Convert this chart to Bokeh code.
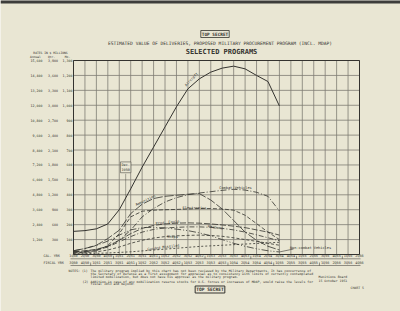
from bokeh.plotting import figure
from bokeh.models import Range1d, Label, BoxAnnotation
from bokeh.core.properties import value
from bokeh.embed import file_html
from bokeh.resources import INLINE

# ---------------- data (monthly rate, $ millions) ----------------
qtr_idx = [0, 1, 2, 3, 4, 5, 6, 7, 8, 9, 10, 11, 12, 13, 14, 15, 16, 17, 18]
aircraft = [155, 160, 172, 205, 300, 440, 585, 720, 855, 990, 1110, 1177, 1222, 1249, 1262, 1244, 1200, 1159, 995]
combat_vehicles = [18, 22, 30, 55, 96, 163, 252, 308, 352, 381, 401, 412, 421, 430, 437, 432, 417, 390, 292]
ammunition = [25, 40, 62, 107, 163, 274, 337, 375, 390, 397, 404, 408, 365, 305, 228, 150, 95, 55, 30]
electronics = [10, 15, 25, 60, 140, 252, 290, 297, 300, 302, 305, 308, 308, 305, 297, 263, 207, 150, 100]
prod_equip = [20, 25, 35, 55, 95, 140, 175, 195, 205, 210, 212, 210, 205, 198, 190, 180, 165, 150, 130]
weapons = [15, 20, 30, 50, 85, 120, 150, 168, 178, 182, 185, 185, 182, 175, 165, 150, 132, 112, 92]
ships = [10, 12, 18, 30, 50, 75, 95, 110, 120, 125, 128, 130, 128, 122, 112, 100, 88, 75, 62]
guided_missiles = [5, 6, 8, 10, 14, 18, 24, 30, 36, 42, 48, 54, 58, 62, 66, 70, 74, 78, 82]
noncombat_vehicles = [25, 40, 60, 90, 130, 165, 180, 182, 178, 170, 160, 145, 125, 100, 75, 55, 38, 25, 17]

dec_1950_x = 4.56
dec_1950_top = 540

# ---------------- axis tick labels ----------------
grid_x = list(range(26))
cal_labels = ["1Q50", "2Q50", "3Q50", "4Q50", "1Q51", "2Q51", "3Q51", "4Q51",
              "1Q52", "2Q52", "3Q52", "4Q52", "1Q53", "2Q53", "3Q53", "4Q53",
              "1Q54", "2Q54", "3Q54", "4Q54", "1Q55", "2Q55", "3Q55", "4Q55",
              "1Q56", "2Q56"]
fiscal_labels = ["3Q50", "4Q50", "1Q51", "2Q51", "3Q51", "4Q51", "1Q52", "2Q52",
                 "3Q52", "4Q52", "1Q53", "2Q53", "3Q53", "4Q53", "1Q54", "2Q54",
                 "3Q54", "4Q54", "1Q55", "2Q55", "3Q55", "4Q55", "1Q56", "2Q56",
                 "3Q56", "4Q56"]
cal_year_breaks = [3.5, 7.5, 11.5, 15.5, 19.5, 23.5]
fiscal_year_breaks = [1.5, 5.5, 9.5, 13.5, 17.5, 21.5]
mo_ticks = [0, 100, 200, 300, 400, 500, 600, 700, 800, 900, 1000, 1100, 1200, 1300]
mo_labels = ["", "100", "200", "300", "400", "500", "600", "700", "800", "900",
             "1,000", "1,100", "1,200", "1,300"]
qtr_labels = ["", "300", "600", "900", "1,200", "1,500", "1,800", "2,100", "2,400",
              "2,700", "3,000", "3,300", "3,600", "3,900"]
annual_labels = ["", "1,200", "2,400", "3,600", "4,800", "6,000", "7,200", "8,400",
                 "9,600", "10,800", "12,000", "13,200", "14,400", "15,600"]

# ---------------- style / page geometry ----------------
PAPER = "#e9e6d3"
INK = "#34332f"
GRID = "#7f7c73"
FONT = "DejaVu Sans Mono"
FL, FR, FT, FB = 73, 359, 60, 254          # plot rectangle on the page (px)
W, H = 400, 311

def dx(px):
    return grid_x[0] + (px - FL) / (FR - FL) * (grid_x[-1] - grid_x[0])

def dy(py):
    return mo_ticks[0] + (FB - py) / (FB - FT) * (mo_ticks[-1] - mo_ticks[0])

p = figure(width=W, height=H, x_range=Range1d(dx(0), dx(W)), y_range=Range1d(dy(H), dy(0)),
           output_backend="svg", toolbar_location=None,
           x_axis_location=None, y_axis_location=None,
           min_border=0, min_border_left=0, min_border_right=0,
           min_border_top=0, min_border_bottom=0,
           background_fill_color=PAPER, border_fill_color=PAPER,
           outline_line_color=None)
p.xgrid.grid_line_color = None
p.ygrid.grid_line_color = None

x0, x1 = grid_x[0], grid_x[-1]
y0, y1 = mo_ticks[0], mo_ticks[-1]

# grid
p.segment(x0=grid_x, y0=[y0] * len(grid_x), x1=grid_x, y1=[y1] * len(grid_x),
          line_color=GRID, line_width=0.8)
p.segment(x0=[x0] * len(mo_ticks), y0=mo_ticks, x1=[x1] * len(mo_ticks), y1=mo_ticks,
          line_color=GRID, line_width=0.8)
p.quad(left=[x0], right=[x1], bottom=[y0], top=[y1], fill_color=None,
       line_color=INK, line_width=1.0)

# y tick labels (three columns)
def tick_col(px_right, labels, size="3.3px"):
    p.text(x=[dx(px_right)] * len(mo_ticks), y=mo_ticks, text=labels,
           text_font=value(FONT), text_font_size=size, text_color=INK,
           text_align="right", text_baseline="middle")

tick_col(72, mo_labels)
tick_col(57.5, qtr_labels)
tick_col(42, annual_labels)

# x tick label rows
def x_row(py, labels, breaks, py_line):
    p.text(x=grid_x, y=[dy(py)] * len(grid_x), text=labels,
           text_font=value(FONT), text_font_size="3.5px", text_color=INK,
           text_align="center", text_baseline="middle")
    p.segment(x0=[dx(70)], y0=[dy(py_line)], x1=[dx(360)], y1=[dy(py_line)],
              line_color=INK, line_width=0.5)
    p.segment(x0=breaks, y0=[dy(py_line)] * len(breaks), x1=breaks,
              y1=[dy(py_line - 3)] * len(breaks), line_color=INK, line_width=0.5)

x_row(255.6, cal_labels, cal_year_breaks, 258.3)
x_row(262.4, fiscal_labels, fiscal_year_breaks, 265.0)

# series
series = [
    (aircraft, "solid", 1.0),
    (combat_vehicles, "6 2 1 2", 0.8),
    (ammunition, "9 2", 0.8),
    (electronics, "4 2", 0.8),
    (prod_equip, "6 2", 0.8),
    (weapons, "5 2 1 2", 0.8),
    (ships, "3 2", 0.8),
    (guided_missiles, "2 2", 0.8),
    (noncombat_vehicles, "7 2 1 2 1 2", 0.8),
]
for ys, dash, lw in series:
    p.line(qtr_idx, ys, line_color=INK, line_width=lw, line_dash=dash)

# Dec 1950 marker
p.segment(x0=[dec_1950_x], y0=[y0], x1=[dec_1950_x], y1=[dec_1950_top],
          line_color=INK, line_width=0.8, line_dash="1 1")
p.add_layout(Label(x=dec_1950_x, y=dec_1950_top + 8, text="Dec.\n1950", text_font=FONT,
                   text_font_size="3.5px", text_color=INK, text_align="center",
                   text_baseline="bottom", background_fill_color=PAPER,
                   border_line_color=INK, border_line_width=0.5, padding=1))

# non-combat vehicles leader
p.segment(x0=[dx(293)], y0=[dy(248.5)], x1=[qtr_idx[-1]], y1=[noncombat_vehicles[-1]],
          line_color=INK, line_width=0.6)

def lab(px, py, text, size="3.6px", angle=0.0, align="center", bold=False, **kw):
    p.add_layout(Label(x=dx(px), y=dy(py), text=text, text_font=FONT, text_font_size=size,
                       text_color=INK, text_align=align, text_baseline="middle", angle=angle,
                       text_font_style=("bold" if bold else "normal"), **kw))

# series labels
lab(191, 79, "Aircraft", angle=0.8)
lab(235, 187, "Combat Vehicles")
lab(145, 200, "Ammunition", angle=0.45)
lab(194, 207, "Electronics")
lab(168, 222, "Prod. Equip.", angle=0.1)
lab(215, 227, "Weapons", angle=-0.15)
lab(172, 236, "Ships")
lab(163, 247, "Guided Missiles", angle=0.12)
lab(310, 247.5, "Non-combat Vehicles")

# headings
lab(214.5, 33.5, "TOP SECRET", size="4.4px", bold=True,
    border_line_color=INK, border_line_width=0.8, padding=1)
lab(219.5, 43, "ESTIMATED VALUE OF DELIVERIES, PROPOSED MILITARY PROCUREMENT PROGRAM (INCL. MDAP)", size="4.6px")
lab(221, 51, "SELECTED PROGRAMS", size="7px", bold=True)
lab(50, 52.3, "RATES IN $ MILLIONS", size="3px")
lab(35, 56, "Annual", size="3px")
lab(51, 56, "Qtr.", size="3px")
lab(67, 56, "Mo.", size="3px")
lab(43, 255.6, "CAL. YRS", size="3.4px", align="left")
lab(43, 262.4, "FISCAL YRS", size="3.4px", align="left")

# notes
NS = "3.2px"
lab(68, 270.7, "NOTES: (1)", size=NS, align="left")
lab(90, 270.7, "The military program implied by this chart has not been reviewed by the Military Departments.  It has concurrence of", size=NS, align="left")
lab(90, 273.7, "the Secretary of Defense as a first assignment for appraisal as to consistency with limits of currently contemplated", size=NS, align="left")
lab(90, 276.7, "limited mobilization, but does not have his approval as the military program.", size=NS, align="left")
lab(82, 281, "(2)", size=NS, align="left")
lab(90, 281, "Addition in case of any mobilization reserve stocks for U.S. forces or increases of MDAP, would raise the levels for", size=NS, align="left")
lab(90, 283.7, "fiscal 1953 and beyond.", size=NS, align="left")
lab(318, 276.7, "Munitions Board", size=NS, align="left")
lab(318, 280, "15 October 1951", size=NS, align="left")
lab(350, 287.5, "CHART 5", size=NS, align="left")
lab(209.5, 289, "TOP SECRET", size="4.6px", bold=True,
    border_line_color=INK, border_line_width=1.0, padding=1)

# dark top edge of the scan
p.add_layout(BoxAnnotation(left=dx(0), right=dx(W), top=dy(-2), bottom=dy(3),
                           fill_color="#3d3d3b", fill_alpha=1, line_color=None))

open("out.html", "w").write(file_html(p, INLINE))
